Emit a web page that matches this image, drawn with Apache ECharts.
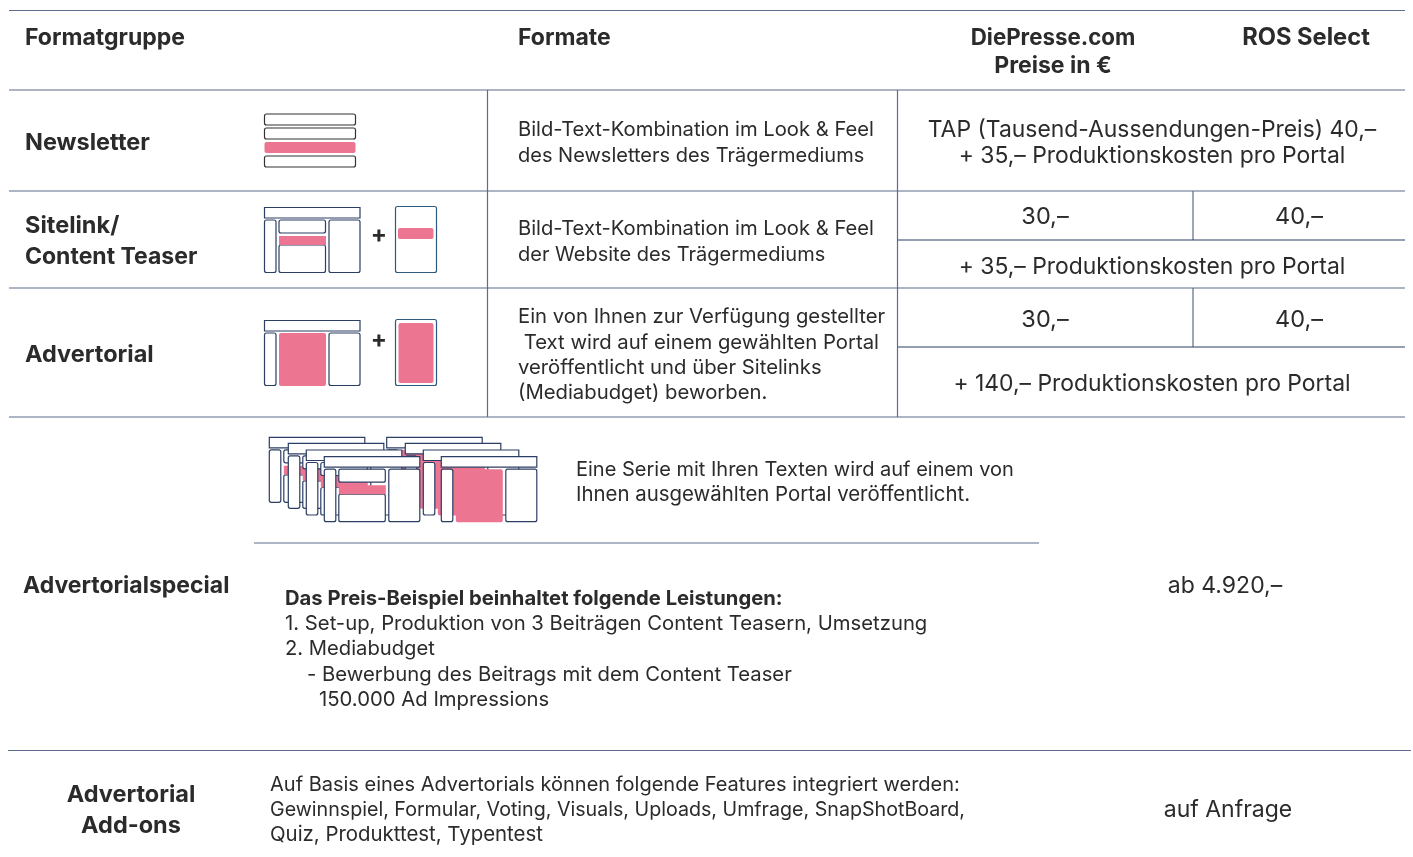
<!DOCTYPE html>
<html lang="de">
<head>
    <meta charset="UTF-8">
    <title>Formate und Preise</title>
    <script src="https://cdn.jsdelivr.net/npm/echarts@6/dist/echarts.min.js"></script>
    <style>html, body { margin: 0; padding: 0; background: #fff; }</style>
</head>
<body>
<div id="main" style="width: 1413px;height:857px;"></div>
<script>
    // table content
    var headers = ['Formatgruppe', 'Formate', 'DiePresse.com', 'Preise in €', 'ROS Select'];
    var groupNames = ['Newsletter', 'Sitelink/', 'Content Teaser', 'Advertorial', 'Advertorialspecial', 'Advertorial', 'Add-ons'];
    var newsletterText = ['Bild-Text-Kombination im Look & Feel', 'des Newsletters des Trägermediums'];
    var sitelinkText = ['Bild-Text-Kombination im Look & Feel', 'der Website des Trägermediums'];
    var advertorialText = ['Ein von Ihnen zur Verfügung gestellter', ' Text wird auf einem gewählten Portal', 'veröffentlicht und über Sitelinks', '(Mediabudget) beworben.'];
    var newsletterPrice = ['TAP (Tausend-Aussendungen-Preis) 40,–', '+ 35,– Produktionskosten pro Portal'];
    var sitelinkPrice = ['30,–', '40,–', '+ 35,– Produktionskosten pro Portal'];
    var advertorialPrice = ['30,–', '40,–', '+ 140,– Produktionskosten pro Portal'];
    var specialIntro = ['Eine Serie mit Ihren Texten wird auf einem von', 'Ihnen ausgewählten Portal veröffentlicht.'];
    var specialTitle = 'Das Preis-Beispiel beinhaltet folgende Leistungen:';
    var specialList = ['1. Set-up, Produktion von 3 Beiträgen Content Teasern, Umsetzung', '2. Mediabudget', '- Bewerbung des Beitrags mit dem Content Teaser', '150.000 Ad Impressions'];
    var specialPrice = 'ab 4.920,–';
    var addonText = ['Auf Basis eines Advertorials können folgende Features integriert werden:', 'Gewinnspiel, Formular, Voting, Visuals, Uploads, Umfrage, SnapShotBoard,', 'Quiz, Produkttest, Typentest'];
    var addonPrice = 'auf Anfrage';

    var FONT = 'Inter';
    var INK = '#2b2b2b';
    var RULE = '#5d6c8a';
    var NAVY = '#2c3e63';
    var PINK = '#ec7592';

    var els = [];

    function txt(s, x, y, size, opt) {
        opt = opt || {};
        els.push({
            type: 'text', z: 5,
            style: {
                x: x, y: y + 1, text: s, fill: INK,
                font: (opt.bold ? 'bold ' : '') + size + 'px ' + FONT,
                textAlign: opt.center ? 'center' : 'left',
                textVerticalAlign: 'middle'
            }
        });
    }
    function rule(x1, y1, x2, y2, color, w) {
        els.push({
            type: 'line', z: 1,
            shape: {x1: x1, y1: y1, x2: x2, y2: y2},
            style: {stroke: color || RULE, lineWidth: w || 1.2}
        });
    }
    function box(x1, y1, x2, y2, stroke, fill, r) {
        els.push({
            type: 'rect', z: 3,
            shape: {x: x1, y: y1, width: x2 - x1, height: y2 - y1, r: r === undefined ? 2 : r},
            style: {fill: fill || '#fff', stroke: stroke || 'none', lineWidth: 1.2}
        });
    }

    // small page sketch: header bar, three columns, optional teaser layout
    function sitePage(x, y, stroke, teaser) {
        box(x, y, x + 95.5, y + 10.5, stroke, null, 0);
        box(x, y + 12.5, x + 11.5, y + 65, stroke);
        if (teaser) {
            box(x + 14.5, y + 12.5, x + 61, y + 25.5, stroke);
            box(x + 14.5, y + 37.5, x + 61, y + 65, stroke);
            box(x + 14.5, y + 28.5, x + 61.5, y + 37.5, null, PINK, 0);
        } else {
            box(x + 14.5, y + 12.5, x + 61.5, y + 65.5, null, PINK);
        }
        box(x + 64.5, y + 12.5, x + 95.5, y + 65, stroke);
    }

    // table rules
    [[9, 10.5], [9, 90], [9, 191], [9, 288], [9, 417]].forEach(function (r) {
        rule(r[0], r[1], 1405, r[1]);
    });
    rule(8, 750.5, 1411, 750.5);
    rule(254, 543, 1039, 543);
    rule(487.5, 90, 487.5, 417);
    rule(897.5, 90, 897.5, 417);
    rule(1193, 191, 1193, 240);
    rule(1193, 288, 1193, 347);
    rule(898, 240, 1405, 240, NAVY);
    rule(898, 347, 1405, 347, NAVY);

    // header
    txt(headers[0], 25, 37, 23, {bold: true});
    txt(headers[1], 518, 37, 23, {bold: true});
    txt(headers[2], 1053, 37, 22.3, {bold: true, center: true});
    txt(headers[3], 1053, 65, 23, {bold: true, center: true});
    txt(headers[4], 1306, 37, 23.7, {bold: true, center: true});

    // format groups
    txt(groupNames[0], 25, 142, 23.5, {bold: true});
    txt(groupNames[1], 25, 225, 23.5, {bold: true});
    txt(groupNames[2], 25, 256, 23, {bold: true});
    txt(groupNames[3], 25, 354, 23.5, {bold: true});
    txt(groupNames[4], 23, 585, 23, {bold: true});
    txt(groupNames[5], 131, 794, 23.5, {bold: true, center: true});
    txt(groupNames[6], 131, 825, 23.5, {bold: true, center: true});

    // format descriptions
    [129, 155].forEach(function (y, i) { txt(newsletterText[i], 518, y, [20.2, 20][i]); });
    [228, 254].forEach(function (y, i) { txt(sitelinkText[i], 518, y, [20.2, 20][i]); });
    [316, 342, 367, 392].forEach(function (y, i) { txt(advertorialText[i], 518, y, 20.3); });

    // prices
    txt(newsletterPrice[0], 1152, 129, 22.9, {center: true});
    txt(newsletterPrice[1], 1152, 155, 22.9, {center: true});
    txt(sitelinkPrice[0], 1045, 216, 23.5, {center: true});
    txt(sitelinkPrice[1], 1299, 216, 23.5, {center: true});
    txt(sitelinkPrice[2], 1152, 266, 22.9, {center: true});
    txt(advertorialPrice[0], 1045, 319, 23.5, {center: true});
    txt(advertorialPrice[1], 1299, 319, 23.5, {center: true});
    txt(advertorialPrice[2], 1152, 383, 22.9, {center: true});
    txt(specialPrice, 1225, 585, 23, {center: true});
    txt(addonPrice, 1228, 809, 23, {center: true});

    // special block
    [469, 494].forEach(function (y, i) { txt(specialIntro[i], 576, y, [20, 20.4][i]); });
    txt(specialTitle, 285, 598, 20.2, {bold: true});
    txt(specialList[0], 285, 623, 20.3);
    txt(specialList[1], 285, 648, 20.2);
    txt(specialList[2], 307, 674, 20.3);
    txt(specialList[3], 319, 699, 20.3);
    [784, 809, 834].forEach(function (y, i) { txt(addonText[i], 270, y, [20, 19.65, 20.4][i]); });

    // newsletter icon
    box(264.5, 114, 355.5, 125, '#333');
    box(264.5, 128, 355.5, 139, '#333');
    box(264.5, 142, 355.5, 153, null, PINK);
    box(264.5, 156, 355.5, 167, '#333');

    // sitelink icon
    sitePage(264.5, 207.5, NAVY, true);
    txt('+', 379, 234, 24, {bold: true, center: true});
    box(395.5, 206.5, 436.5, 272.5, '#2f5a7c');
    box(398, 228, 433.5, 239, null, PINK);

    // advertorial icon
    sitePage(264.5, 320.5, NAVY, false);
    txt('+', 379, 339, 24, {bold: true, center: true});
    box(395.5, 319.5, 436.5, 385.5, '#2f5a7c');
    box(398.5, 323, 433.5, 383, null, PINK);

    // stacked pages of the series
    [[386.7, 437.3], [405.3, 443.3], [423.3, 450], [441.3, 456.7]].forEach(function (p) {
        sitePage(p[0], p[1], NAVY, false);
    });
    [[269.3, 437.3], [288.3, 443.3], [306.3, 450], [324.3, 456.7]].forEach(function (p) {
        sitePage(p[0], p[1], NAVY, true);
    });

    var myChart = echarts.init(document.getElementById('main'));
    myChart.setOption({
        backgroundColor: '#fff',
        animation: false,
        graphic: {elements: els}
    });
</script>
</body>
</html>
